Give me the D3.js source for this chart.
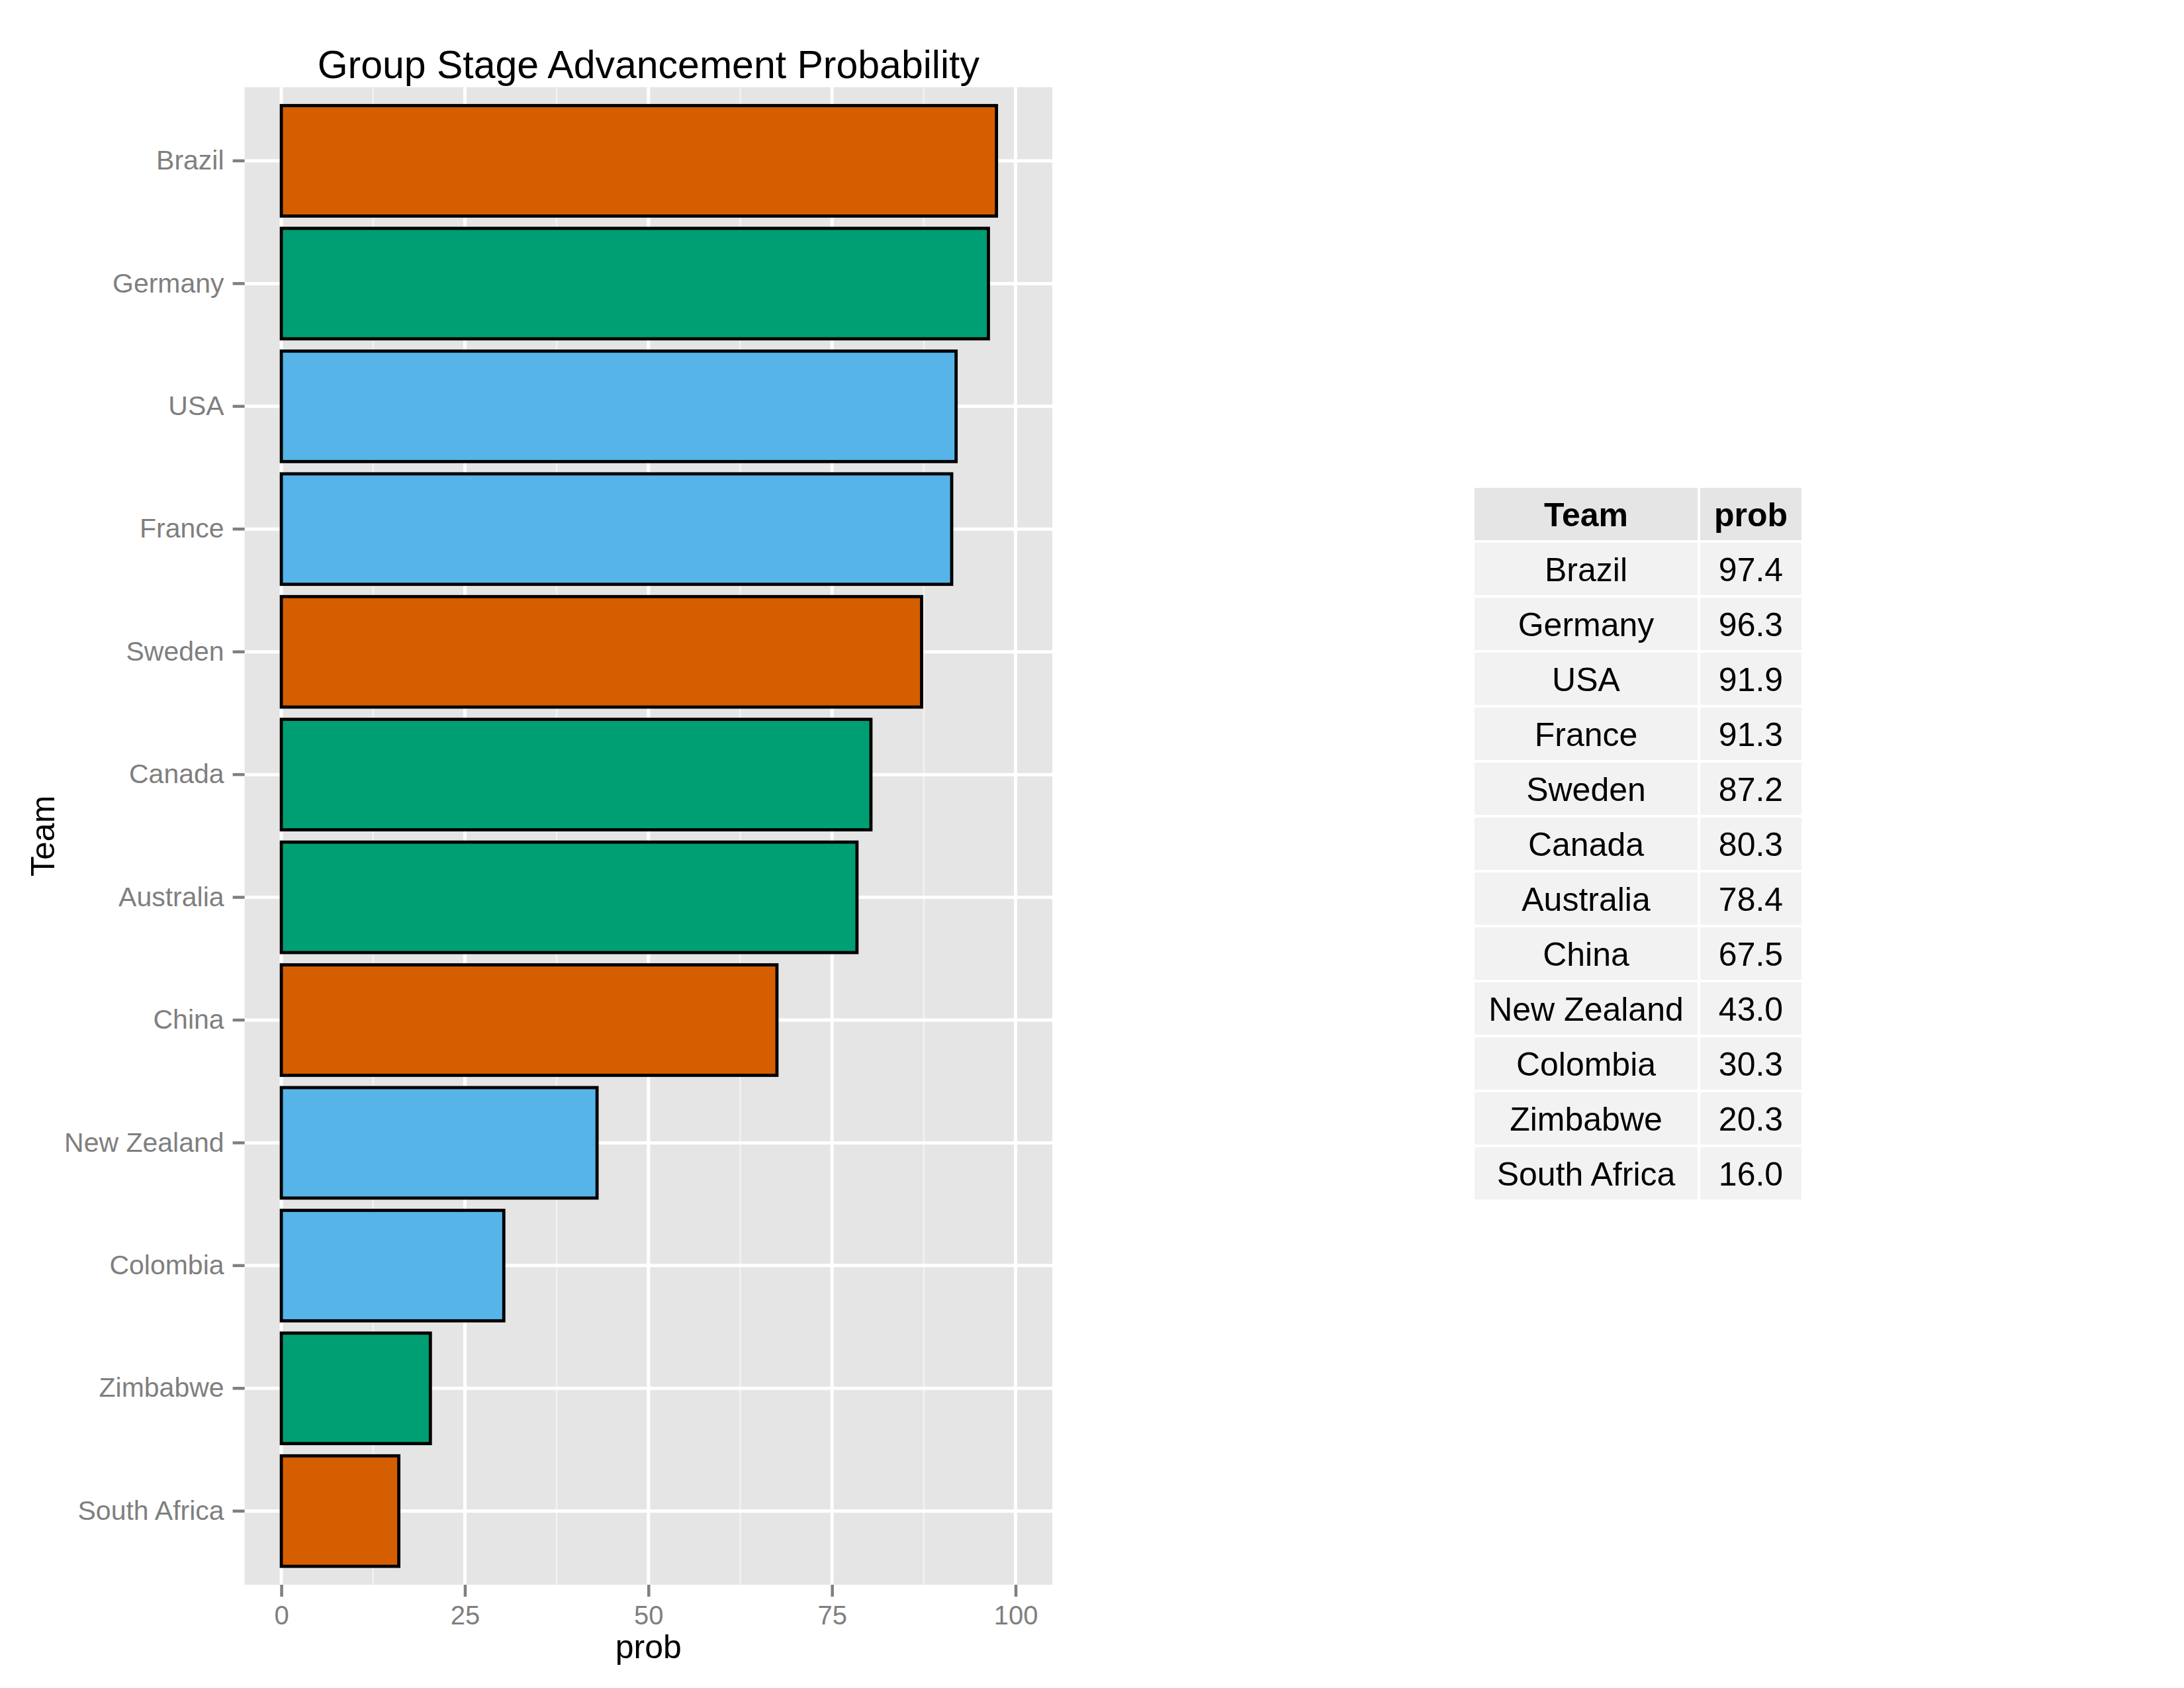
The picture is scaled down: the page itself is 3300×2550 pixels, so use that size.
<!DOCTYPE html>
<html>
<head>
<meta charset="utf-8">
<script src="https://cdn.jsdelivr.net/npm/d3@7"></script>
<style>
  body { margin: 0; background: #fff; }
  svg text { font-family: "Liberation Sans", Arial, Helvetica, sans-serif; }
</style>
</head>
<body>
<div id="chart"></div>
<script>
// data
let teams = ["Brazil", "Germany", "USA", "France", "Sweden", "Canada",
  "Australia", "China", "New Zealand", "Colombia", "Zimbabwe", "South Africa"];
let prob = [97.4, 96.3, 91.9, 91.3, 87.2, 80.3, 78.4, 67.5, 43.0, 30.3, 20.3, 16.0];
let group = ["E", "F", "G", "G", "E", "F", "F", "E", "G", "G", "F", "E"];
let xTicks = [0, 25, 50, 75, 100];
let xMinor = [12.5, 37.5, 62.5, 87.5];
let tableHeader = ["Team", "prob"];

let width = 3300;
let height = 2550;

let svg = d3.select("#chart").append("svg")
  .attr("width", width)
  .attr("height", height);

svg.append("rect")
  .attr("width", width)
  .attr("height", height)
  .attr("fill", "#fff");

let panel = { left: 369.6, right: 1590, top: 131.7, bottom: 2394 };

let x = d3.scaleLinear()
  .domain([-5, 105])
  .range([panel.left, panel.right]);

let y = d3.scaleBand()
  .domain(teams)
  .range([panel.top, panel.bottom])
  .paddingInner(0.1)
  .paddingOuter(0.15);

let color = d3.scaleOrdinal()
  .domain(["E", "F", "G"])
  .range(["#D55E00", "#009E73", "#56B4E9"]);

// panel background + grid
svg.append("rect")
  .attr("x", panel.left)
  .attr("y", panel.top)
  .attr("width", panel.right - panel.left)
  .attr("height", panel.bottom - panel.top)
  .attr("fill", "#E5E5E5");

svg.append("g")
  .selectAll("line")
  .data(xMinor)
  .enter()
  .append("line")
  .attr("x1", d => x(d))
  .attr("x2", d => x(d))
  .attr("y1", panel.top)
  .attr("y2", panel.bottom)
  .attr("stroke", "#F2F2F2")
  .attr("stroke-width", 2.5);

svg.append("g")
  .selectAll("line")
  .data(xTicks)
  .enter()
  .append("line")
  .attr("x1", d => x(d))
  .attr("x2", d => x(d))
  .attr("y1", panel.top)
  .attr("y2", panel.bottom)
  .attr("stroke", "#fff")
  .attr("stroke-width", 5);

svg.append("g")
  .selectAll("line")
  .data(teams)
  .enter()
  .append("line")
  .attr("x1", panel.left)
  .attr("x2", panel.right)
  .attr("y1", d => y(d) + y.bandwidth() / 2)
  .attr("y2", d => y(d) + y.bandwidth() / 2)
  .attr("stroke", "#fff")
  .attr("stroke-width", 5);

// bars
svg.append("g")
  .selectAll("rect")
  .data(teams)
  .enter()
  .append("rect")
  .attr("x", x(0))
  .attr("y", d => y(d))
  .attr("width", (d, i) => x(prob[i]) - x(0))
  .attr("height", y.bandwidth())
  .attr("fill", (d, i) => color(group[i]))
  .attr("stroke", "#000")
  .attr("stroke-width", 4.8);

// x axis
let xAxis = d3.axisBottom(x)
  .tickValues(xTicks)
  .tickSize(18)
  .tickPadding(14)
  .tickFormat(d3.format("d"));

let gx = svg.append("g")
  .attr("transform", `translate(0,${panel.bottom})`)
  .call(xAxis);
gx.select(".domain").remove();
gx.selectAll(".tick line").attr("stroke", "#7F7F7F").attr("stroke-width", 4.5);
gx.selectAll(".tick text")
  .attr("fill", "#7F7F7F")
  .attr("font-size", 40)
  .attr("font-family", "Liberation Sans, Arial, sans-serif");

// y axis
let yAxis = d3.axisLeft(y)
  .tickSize(18)
  .tickPadding(13);

let gy = svg.append("g")
  .attr("transform", `translate(${panel.left},0)`)
  .call(yAxis);
gy.select(".domain").remove();
gy.selectAll(".tick line").attr("stroke", "#7F7F7F").attr("stroke-width", 4.5);
gy.selectAll(".tick text")
  .attr("fill", "#7F7F7F")
  .attr("font-size", 41)
  .attr("font-family", "Liberation Sans, Arial, sans-serif");

// titles
let midX = (panel.left + panel.right) / 2;

svg.append("text")
  .attr("x", midX)
  .attr("y", 118)
  .attr("text-anchor", "middle")
  .attr("font-size", 59)
  .attr("fill", "#000")
  .text("Group Stage Advancement Probability");

svg.append("text")
  .attr("x", midX)
  .attr("y", 2505)
  .attr("text-anchor", "middle")
  .attr("font-size", 50)
  .attr("fill", "#000")
  .text("prob");

svg.append("text")
  .attr("transform", `translate(82,${(panel.top + panel.bottom) / 2}) rotate(-90)`)
  .attr("text-anchor", "middle")
  .attr("font-size", 50)
  .attr("fill", "#000")
  .text("Team");

// table on the right
let tbl = { top: 737, rowStep: 83, gap: 4 };
let colX = [2228, 2569];
let colW = [337, 153];

let rows = [tableHeader].concat(teams.map((t, i) => [t, d3.format(".1f")(prob[i])]));

let row = svg.append("g")
  .selectAll("g")
  .data(rows)
  .enter()
  .append("g")
  .attr("transform", (d, i) => `translate(0,${tbl.top + i * tbl.rowStep})`);

row.selectAll("rect")
  .data((d, i) => d.map(v => ({ v: v, head: i === 0 })))
  .enter()
  .append("rect")
  .attr("x", (d, j) => colX[j])
  .attr("y", 0)
  .attr("width", (d, j) => colW[j])
  .attr("height", tbl.rowStep - tbl.gap)
  .attr("fill", d => d.head ? "#E5E5E5" : "#F2F2F2");

row.selectAll("text")
  .data((d, i) => d.map(v => ({ v: v, head: i === 0 })))
  .enter()
  .append("text")
  .attr("x", (d, j) => colX[j] + colW[j] / 2)
  .attr("y", (tbl.rowStep - tbl.gap) / 2 + 18)
  .attr("text-anchor", "middle")
  .attr("font-size", 50)
  .attr("font-weight", d => d.head ? "700" : "400")
  .attr("fill", "#000")
  .text(d => d.v);
</script>
</body>
</html>
